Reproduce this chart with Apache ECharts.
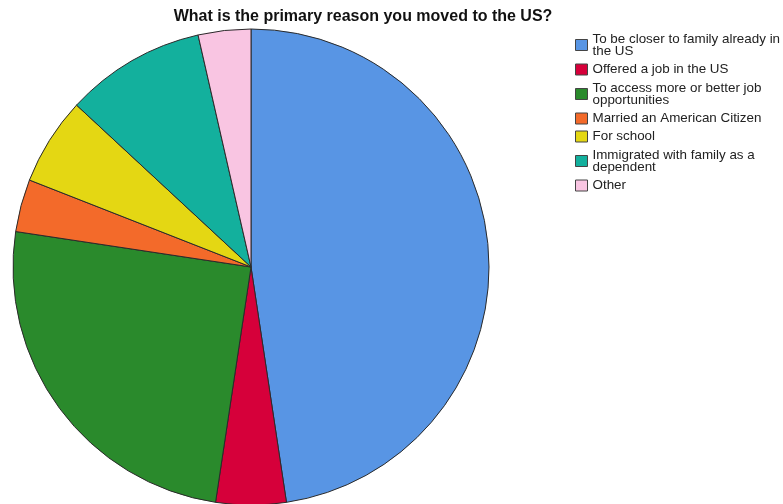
<!DOCTYPE html>
<html>
<head>
<meta charset="utf-8">
<script src="https://cdn.jsdelivr.net/npm/echarts@6/dist/echarts.min.js"></script>
<style>
  html, body { margin: 0; padding: 0; background: #fff; }
  #chart { width: 783px; height: 504px; }
</style>
</head>
<body>
<div id="chart"></div>
<script>
// Survey answers: primary reason for moving to the US (respondent counts)
const categories = [
  'To be closer to family already in\nthe US',
  'Offered a job in the US',
  'To access more or better job\nopportunities',
  'Married an American Citizen',
  'For school',
  'Immigrated with family as a\ndependent',
  'Other'
];
const counts = [40, 4, 21, 3, 5, 8, 3];
const colors = ['#5895E4', '#D6003A', '#2A8A2C', '#F36A2A', '#E4D713', '#13B09D', '#F9C5E2'];

const font = 'Liberation Sans, Arial, sans-serif';

const chart = echarts.init(document.getElementById('chart'));
chart.setOption({
  animation: false,
  title: {
    text: 'What is the primary reason you moved to the US?',
    left: 358,
    textAlign: 'center',
    top: 4,
    textStyle: { fontFamily: font, fontSize: 16, fontWeight: 'bold', color: '#111' }
  },
  legend: {
    orient: 'vertical',
    left: 570,
    top: 27,
    itemWidth: 12,
    itemHeight: 11,
    itemGap: 5,
    icon: 'rect',
    itemStyle: { borderColor: '#444', borderWidth: 1 },
    textStyle: { fontFamily: font, fontSize: 13.4, lineHeight: 12, color: '#222' },
    // two-line entries get a little extra breathing room
    data: categories.map(name => name.indexOf('\n') >= 0
      ? { name, textStyle: { padding: [1, 0, 1, 0] } }
      : { name })
  },
  series: [{
    type: 'pie',
    center: [251, 267],
    radius: 238,
    startAngle: 90,
    clockwise: true,
    label: { show: false },
    labelLine: { show: false },
    emphasis: { disabled: true },
    itemStyle: { borderColor: '#2a2a2a', borderWidth: 1 },
    data: categories.map((name, i) => ({
      name,
      value: counts[i],
      itemStyle: { color: colors[i] }
    }))
  }]
});
</script>
</body>
</html>
